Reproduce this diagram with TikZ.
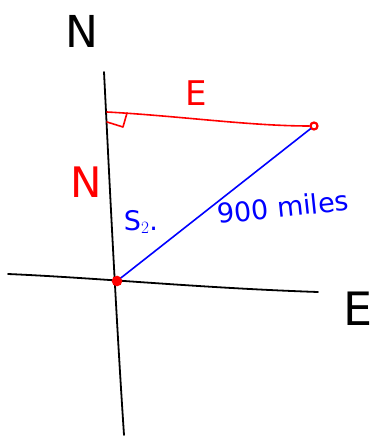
\documentclass[tikz,border=0pt]{standalone}
\usepackage{fontspec}
\setmainfont{DejaVu Sans}
\begin{document}
\begin{tikzpicture}[x=1pt,y=-1pt,
  axis/.style={line width=1.8pt,black,line cap=round},
  redline/.style={line width=1.6pt,red,line cap=round,line join=round},
  blueline/.style={line width=1.6pt,blue,line cap=round},
  dot/.style={circle,draw=red,line width=2.2pt,inner sep=0pt,minimum size=7pt},
  odot/.style={circle,draw=red,fill=red,line width=1.5pt,inner sep=0pt,minimum size=9pt},
  bigtxt/.style={font=\fontsize{44}{44}\selectfont},
  bigtxtE/.style={font=\fontsize{46}{46}\selectfont},
  redtxt/.style={red,font=\fontsize{34}{34}\selectfont},
  redtxtN/.style={red,font=\fontsize{42}{42}\selectfont},
  bluetxt/.style={blue,font=\fontsize{27}{27}\selectfont}]
\useasboundingbox (0,0) rectangle (378,438);
% axes
\coordinate (ntop) at (104,72);
\coordinate (nbot) at (124,435);
\coordinate (wl) at (8,274);
\coordinate (er) at (318,292);
\draw[axis] (ntop) .. controls (108,150) and (115,300) .. (nbot);
\draw[axis] (wl) .. controls (100,278) and (200,288) .. (er);
% points
\node[odot] (o) at (117,281) {};
\node[dot] (p) at (314,126) {};
\coordinate (q) at (107,112);
% red north-side line
\draw[redline] (q) .. controls (180,116) and (250,126) .. (p.west);
\draw[redline] (107,122) -- (123,127) -- (127,113);
% blue line
\draw[blueline] (o) -- (p);
% labels
\node[bigtxt] (nlab) at (82,31) {N};
\node[bigtxtE] (elab) at (358,309) {E};
\node[redtxt] (ered) at (196,93) {E};
\node[redtxtN] (nred) at (86,182) {N};
\node[bluetxt] (s2) at (141,222) {S$_2$.};
\node[bluetxt,rotate=6] (dist) at (283,207) {900 miles};
\end{tikzpicture}
\end{document}
